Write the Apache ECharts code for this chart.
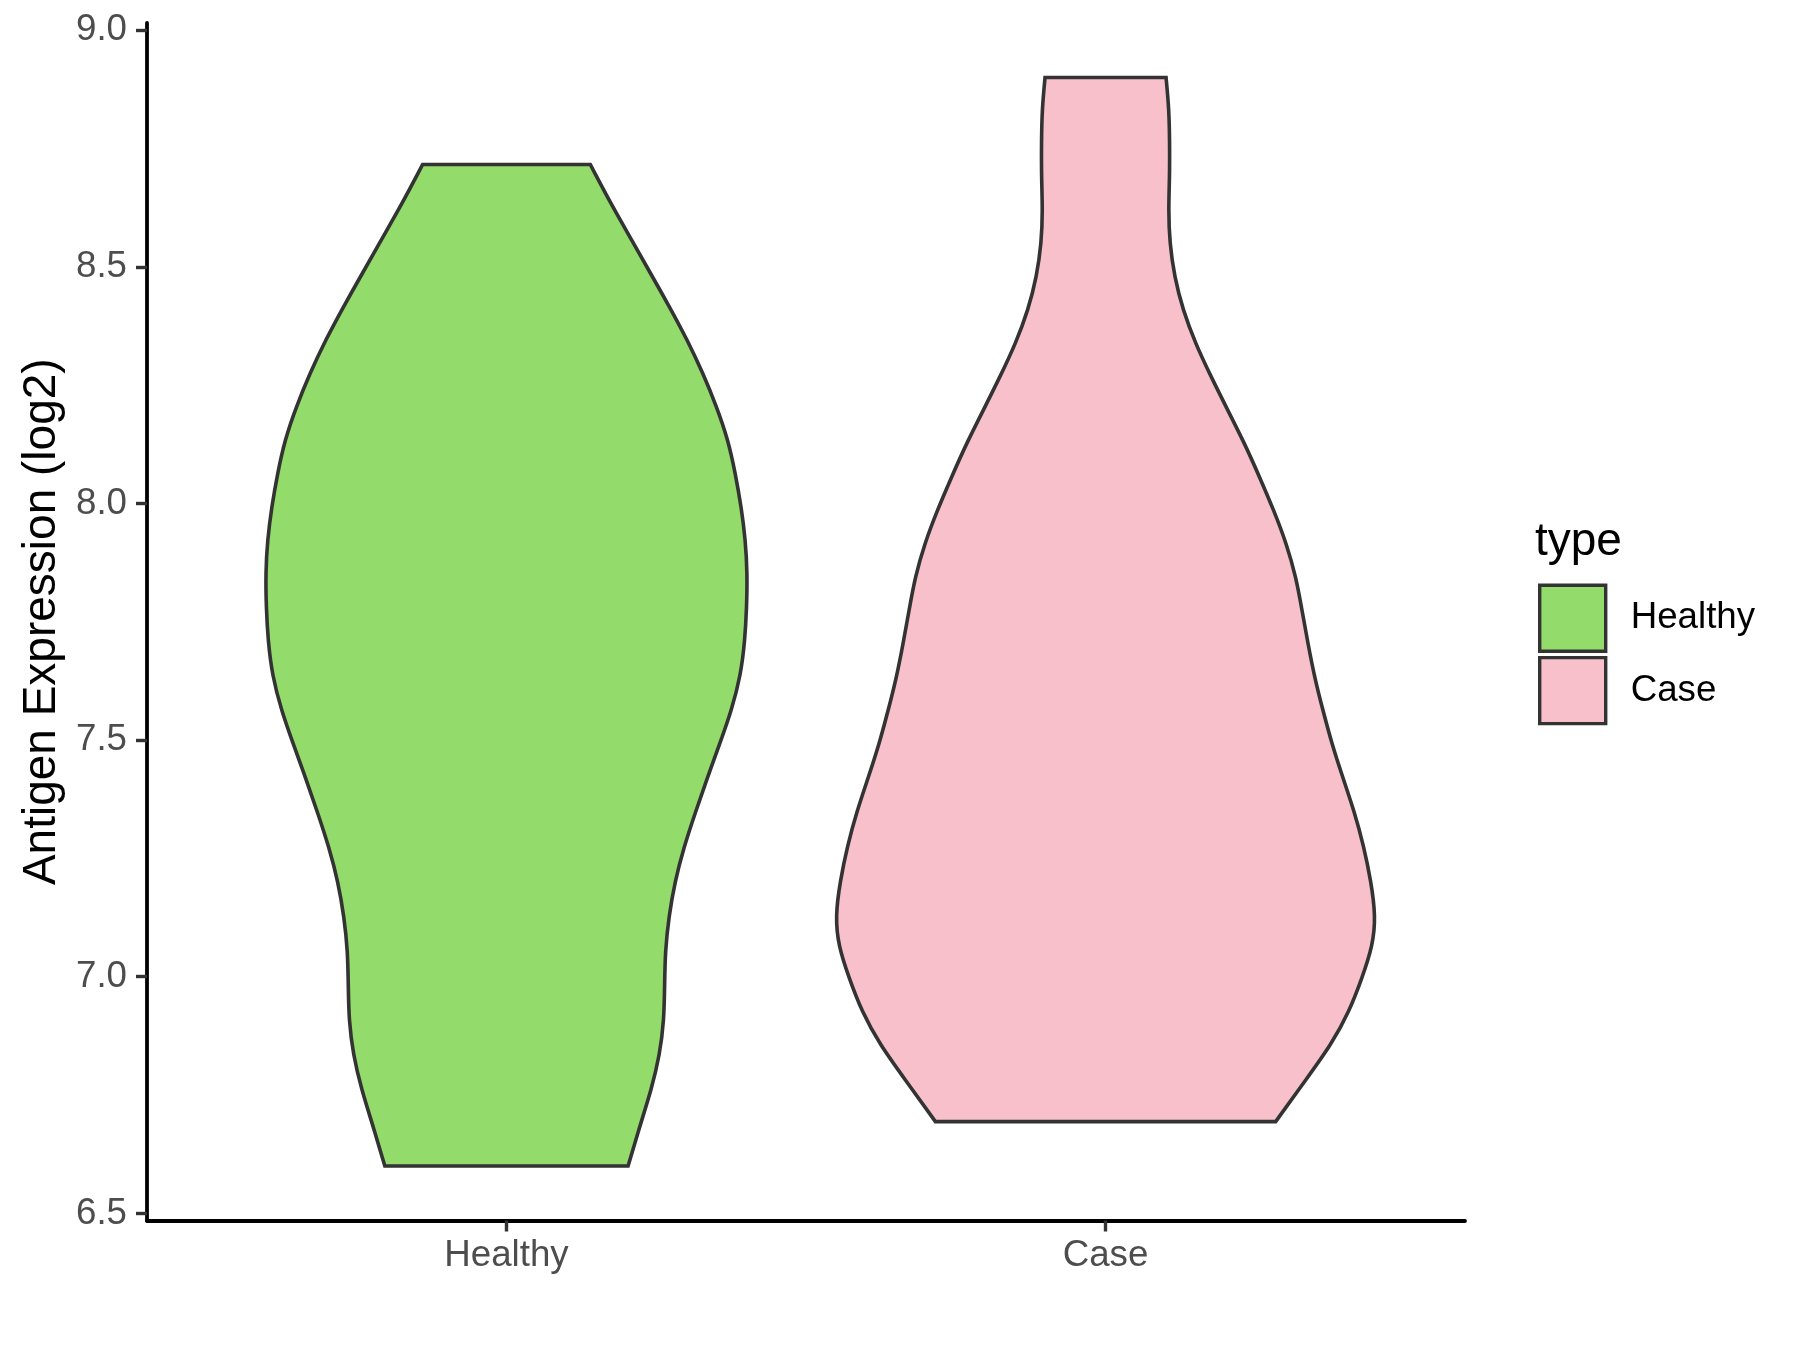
<!DOCTYPE html>
<html>
<head>
<meta charset="utf-8">
<script src="https://cdn.jsdelivr.net/npm/echarts@6/dist/echarts.min.js"></script>
<style>
  html, body { margin: 0; padding: 0; background: #ffffff; }
  #chart { width: 1800px; height: 1350px; }
</style>
</head>
<body>
<div id="chart"></div>
<script>
// ---- data ----
const categories = ['Healthy', 'Case'];
const yTicks = [6.5, 7.0, 7.5, 8.0, 8.5, 9.0];

// violin outlines: expression value (bottom -> top) and half-width (in category units)
const healthyY = [6.600, 6.690, 6.762, 6.836, 6.908, 6.981, 7.054, 7.127, 7.200, 7.273, 7.346, 7.419, 7.492, 7.564, 7.637, 7.710, 7.781, 7.852, 7.922, 7.992, 8.064, 8.134, 8.204, 8.275, 8.345, 8.416, 8.487, 8.557, 8.627, 8.716];
const healthyHalfWidth = [0.203, 0.224, 0.242, 0.256, 0.263, 0.264, 0.265, 0.271, 0.281, 0.296, 0.315, 0.335, 0.356, 0.376, 0.391, 0.398, 0.401, 0.402, 0.399, 0.392, 0.382, 0.370, 0.351, 0.328, 0.302, 0.272, 0.240, 0.209, 0.177, 0.140];

const caseY = [6.694, 6.785, 6.857, 6.927, 6.997, 7.065, 7.128, 7.202, 7.276, 7.350, 7.421, 7.491, 7.562, 7.632, 7.703, 7.774, 7.844, 7.915, 7.985, 8.056, 8.127, 8.197, 8.268, 8.338, 8.409, 8.479, 8.550, 8.620, 8.691, 8.762, 8.832, 8.900];
const caseHalfWidth = [0.284, 0.336, 0.377, 0.407, 0.428, 0.446, 0.451, 0.443, 0.431, 0.415, 0.396, 0.378, 0.363, 0.349, 0.338, 0.328, 0.318, 0.302, 0.281, 0.257, 0.232, 0.204, 0.176, 0.150, 0.129, 0.115, 0.107, 0.105, 0.107, 0.107, 0.106, 0.101];

const colors = { Healthy: '#93DB6A', Case: '#F7C0CB' };
const outline = '#333333';
const FONT = '"Liberation Sans", Arial, Helvetica, sans-serif';

// smooth outline through screen points (clamped uniform cubic B-spline -> bezier commands)
function smoothThrough(pts) {
  const q = [pts[0], pts[0]].concat(pts, [pts[pts.length - 1], pts[pts.length - 1]]);
  let d = '';
  for (let i = 1; i < q.length - 2; i++) {
    const b = q[i], c = q[i + 1], e = q[i + 2];
    const c1 = [(2 * b[0] + c[0]) / 3, (2 * b[1] + c[1]) / 3];
    const c2 = [(b[0] + 2 * c[0]) / 3, (b[1] + 2 * c[1]) / 3];
    const end = [(b[0] + 4 * c[0] + e[0]) / 6, (b[1] + 4 * c[1] + e[1]) / 6];
    d += ' C' + c1[0] + ',' + c1[1] + ' ' + c2[0] + ',' + c2[1] + ' ' + end[0] + ',' + end[1];
  }
  return d;
}

function violinRenderer(ys, hws, fill) {
  return function (params, api) {
    const cx = api.value(0);
    const left = ys.map((y, i) => api.coord([cx - hws[i], y]));
    const right = ys.map((y, i) => api.coord([cx + hws[i], y])).reverse();
    let d = 'M' + left[0][0] + ',' + left[0][1];
    d += smoothThrough(left);
    d += ' L' + right[0][0] + ',' + right[0][1];
    d += smoothThrough(right);
    d += ' Z';
    return {
      type: 'path',
      shape: { pathData: d },
      style: { fill: fill, stroke: outline, lineWidth: 3.6, lineJoin: 'miter' }
    };
  };
}

const chart = echarts.init(document.getElementById('chart'), null, { renderer: 'canvas' });

const option = {
  animation: false,
  backgroundColor: '#ffffff',
  grid: { left: 147, right: 335, top: 23, bottom: 129.5, containLabel: false },
  title: {
    text: 'type',
    left: 1535,
    top: 519,
    padding: 0,
    textStyle: { fontFamily: FONT, fontSize: 46, fontWeight: 'normal', color: '#000000' }
  },
  legend: {
    orient: 'vertical',
    left: 1538,
    top: 583.5,
    padding: 0,
    itemWidth: 66,
    itemHeight: 66,
    itemGap: 3,
    selectedMode: false,
    textStyle: { fontFamily: FONT, fontSize: 36.7, color: '#000000', padding: [0, 0, 0, 20] },
    data: categories.map(c => ({
      name: c,
      icon: 'rect',
      itemStyle: { color: colors[c], borderColor: outline, borderWidth: 3.4 }
    }))
  },
  xAxis: {
    type: 'value',
    min: 0.4,
    max: 2.6,
    splitLine: { show: false },
    axisLine: { show: true, onZero: false, lineStyle: { color: '#000000', width: 3.8 } },
    axisTick: { show: true, customValues: [1, 2], length: 11, lineStyle: { color: outline, width: 3.4 } },
    axisLabel: {
      customValues: [1, 2],
      margin: 17,
      fontFamily: FONT,
      fontSize: 36.7,
      color: '#4D4D4D',
      formatter: v => categories[Math.round(v) - 1]
    }
  },
  yAxis: {
    type: 'value',
    min: 6.485,
    max: 9.015,
    name: 'Antigen Expression (log2)',
    nameLocation: 'middle',
    nameGap: 80,
    nameTextStyle: { fontFamily: FONT, fontSize: 46, color: '#000000' },
    splitLine: { show: false },
    axisLine: { show: true, onZero: false, lineStyle: { color: '#000000', width: 3.8 } },
    axisTick: { show: true, customValues: yTicks, length: 11, lineStyle: { color: outline, width: 3.4 } },
    axisLabel: {
      customValues: yTicks,
      margin: 20,
      fontFamily: FONT,
      fontSize: 36.7,
      color: '#4D4D4D',
      formatter: v => v.toFixed(1)
    }
  },
  series: [
    {
      name: 'Healthy',
      type: 'custom',
      itemStyle: { color: colors.Healthy },
      renderItem: violinRenderer(healthyY, healthyHalfWidth, colors.Healthy),
      data: [[1, healthyY[0]]],
      encode: { x: 0, y: 1 },
      silent: true
    },
    {
      name: 'Case',
      type: 'custom',
      itemStyle: { color: colors.Case },
      renderItem: violinRenderer(caseY, caseHalfWidth, colors.Case),
      data: [[2, caseY[0]]],
      encode: { x: 0, y: 1 },
      silent: true
    }
  ]
};

chart.setOption(option);
</script>
</body>
</html>
